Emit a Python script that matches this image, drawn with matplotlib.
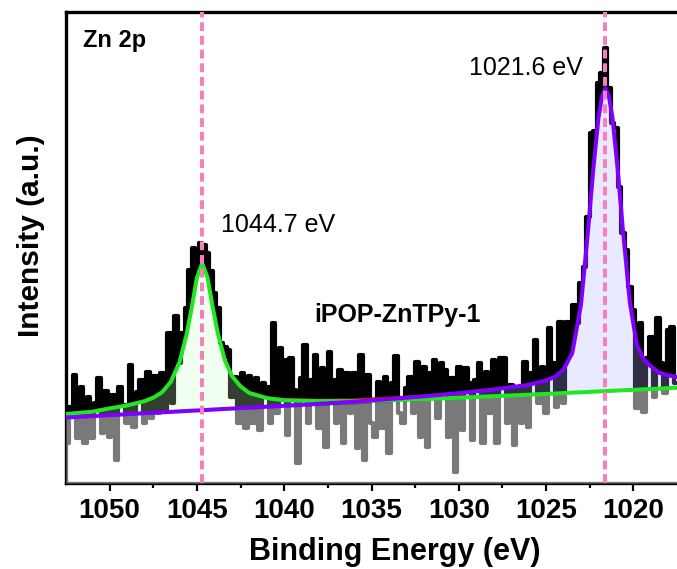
import numpy as np
import matplotlib
matplotlib.use("Agg")
import matplotlib.pyplot as plt

plt.rcParams['font.family'] = ['Liberation Sans', 'DejaVu Sans']

# raw Zn 2p spectrum, 0.2 eV steps from 1052.4 down to 1017.6 eV (a.u.)
energy = np.round(1052.4 - 0.2 * np.arange(175), 1)
counts = [
    40, 76, 108, 45, 96, 40, 86, 45, 80, 105, 50, 92, 46, 88, 23, 96, 78, 60, 118, 56, 91, 103, 60, 111, 65,
    107, 70, 110, 72, 150, 80, 167, 120, 150, 175, 213, 235, 228, 240, 238, 230, 212, 190, 175, 140, 136, 133, 86, 106, 60,
    110, 55, 107, 60, 105, 53, 100, 96, 60, 160, 70, 135, 123, 48, 125, 93, 20, 105, 138, 60, 103, 128, 55, 115, 36,
    131, 103, 60, 113, 40, 110, 70, 110, 35, 128, 23, 108, 60, 46, 101, 55, 106, 30, 100, 127, 70, 60, 95, 106, 70,
    121, 46, 116, 36, 110, 123, 65, 120, 113, 46, 105, 11, 116, 53, 115, 100, 43, 103, 120, 40, 111, 70, 123, 40, 125,
    125, 60, 98, 38, 95, 60, 121, 56, 110, 143, 80, 116, 70, 155, 120, 76, 161, 80, 161, 143, 178, 160, 200, 216, 266,
    350, 352, 400, 410, 435, 395, 360, 355, 296, 250, 233, 196, 173, 75, 160, 71, 125, 146, 86, 165, 120, 90, 153, 156, 100,
]

# fitted components
fit_e = [1052.5, 1051, 1050, 1049, 1048, 1047.5, 1047, 1046.5, 1046, 1045.6, 1045.3, 1045, 1044.7,
         1044.4, 1044.1, 1043.8, 1043.4, 1043, 1042.5, 1042, 1041, 1040, 1038, 1036, 1034, 1032,
         1030, 1028, 1026, 1025, 1024.5, 1024, 1023.5, 1023, 1022.6, 1022.3, 1022, 1021.8, 1021.6,
         1021.4, 1021.2, 1020.9, 1020.6, 1020.2, 1019.8, 1019.4, 1019, 1018.5, 1018, 1017.5]
baseline = [65.0, 66.3, 67.1, 68.0, 68.9, 69.3, 69.7, 70.1, 70.6, 70.9, 71.2, 71.4, 71.7, 71.9, 72.2,
            72.5, 72.8, 73.1, 73.6, 74.0, 74.9, 75.7, 77.4, 79.1, 80.9, 82.6, 84.3, 86.0, 87.7, 88.6,
            89.0, 89.4, 89.9, 90.3, 90.6, 90.9, 91.1, 91.3, 91.5, 91.7, 91.8, 92.1, 92.4, 92.7, 93.0,
            93.4, 93.7, 94.1, 94.6, 95.0]
peak_2p12 = [4, 5, 7.5, 9.5, 13, 16, 21, 31, 50, 77, 104, 134, 148, 134, 104, 77, 50, 34, 23, 16, 10, 7,
             4.5, 2.8, 1.9, 1.3, 1.0, 0.8, 0.6, 0.5, 0.5, 0.5, 0.5, 0.4, 0.4, 0.4, 0.4, 0.4, 0.4, 0.4,
             0.4, 0.4, 0.3, 0.3, 0.3, 0.3, 0.3, 0.3, 0.3, 0.3]
peak_2p32 = [0.5, 0.6, 0.7, 0.8, 0.9, 0.9, 1.0, 1.0, 1.0, 1.1, 1.1, 1.1, 1.1, 1.2, 1.2, 1.2, 1.3, 1.3,
             1.3, 1.4, 1.4, 1.5, 1.8, 2.2, 3.0, 4.0, 5.5, 7.5, 10.5, 14, 17, 24, 40, 88, 161, 222, 274,
             295, 303, 295, 274, 222, 161, 88, 45, 30, 23, 16, 13, 11]

peak_pos = [1044.7, 1021.6]
peak_labels = ["1044.7 eV", "1021.6 eV"]

fit_e = np.array(fit_e)
base = np.array(baseline)
comp1 = base + np.array(peak_2p12)
comp2 = base + np.array(peak_2p32)
envelope = comp1 + np.array(peak_2p32)
counts = np.array(counts, dtype=float)

fig = plt.figure(figsize=(6.77, 5.69), dpi=100)
ax = fig.add_axes([66 / 677, 1 - 483 / 569, 611 / 677, 471 / 569])

# dense raw data: solid black where it sits above the fit envelope
env_on_data = np.interp(energy[::-1], fit_e[::-1], envelope[::-1])[::-1]
ax.fill_between(energy, env_on_data, counts, where=counts > env_on_data,
                step='mid', color='black', lw=0, zorder=2)
ax.plot(energy, counts, color='black', lw=3.0, drawstyle='steps-mid', zorder=2)

# lighten everything under the baseline, tint the peak areas
ax.fill_between(fit_e, 0, base, color='white', alpha=0.48, lw=0, zorder=3)
ax.fill_between(fit_e, base, comp1, color='#c8ffc8', alpha=0.25, lw=0, zorder=3)
ax.fill_between(fit_e, base, comp2, color='#b0b0ff', alpha=0.27, lw=0, zorder=3)

ax.plot(fit_e, envelope, color='#e00000', lw=0.9, zorder=4)
ax.plot(fit_e, comp1, color='#22e622', lw=2.9, zorder=5)
ax.plot(fit_e, comp2, color='#7f00ff', lw=2.9, zorder=5)

for p in peak_pos:
    ax.axvline(p, color='#f77fbe', lw=2.9, ls=(0, (2.2, 1.2)), zorder=6)

ax.text(1051.5, 443, "Zn 2p", fontsize=17, fontweight='bold', va='center')
ax.text(1043.6, 258, peak_labels[0], fontsize=18, va='center')
ax.text(1029.4, 415, peak_labels[1], fontsize=18, va='center')
ax.text(1038.3, 168, "iPOP-ZnTPy-1", fontsize=18, fontweight='bold', va='center')

ax.set_xlim(1052.5, 1017.5)
ax.set_ylim(0, 471)
ax.set_xticks([1050, 1045, 1040, 1035, 1030, 1025, 1020])
ax.set_xticks([1047.5, 1042.5, 1037.5, 1032.5, 1027.5, 1022.5], minor=True)
ax.set_yticks([])
ax.tick_params(axis='x', which='major', direction='out', length=6, width=1.6,
               labelsize=20, pad=5)
ax.tick_params(axis='x', which='minor', direction='out', length=3.5, width=1.6)
for lab in ax.get_xticklabels():
    lab.set_fontweight('bold')
for side in ['left', 'bottom', 'top']:
    ax.spines[side].set_linewidth(2.4)
ax.spines['right'].set_visible(False)

ax.set_xlabel("Binding Energy (eV)", fontsize=22, fontweight='bold')
ax.set_ylabel("Intensity (a.u.)", fontsize=21.5, fontweight='bold', labelpad=15)
ax.xaxis.set_label_coords((395 - 66) / 611, -0.115)
ax.yaxis.label.set_y((483 - 236) / 471)

fig.savefig("out.png", dpi=100)
